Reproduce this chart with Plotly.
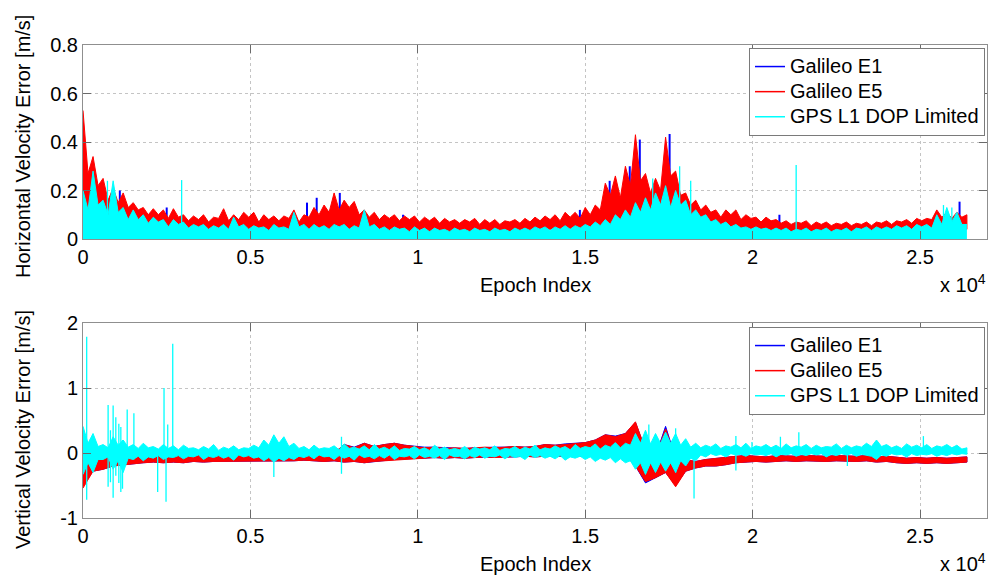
import plotly.graph_objects as go

# ---------------- data ----------------
# bins of 300 epochs; *_HI/_LO = per-bin extremes, *_V = local valleys of the
# jagged edge read half-way between two bins
EPOCHS = list(range(0, 26401, 300))          # 89 bin starts
MID_EPOCHS = list(range(150, 26401, 300))    # 88 half-way positions

# ---- Horizontal velocity error [m/s]
H_E5_HI = [0.53, 0.34, 0.25, 0.21, 0.19, 0.15, 0.13, 0.125, 0.12, 0.125,
           0.10, 0.095, 0.10, 0.09, 0.125, 0.10, 0.11, 0.11, 0.10, 0.095,
           0.095, 0.12, 0.10, 0.13, 0.14, 0.19, 0.16, 0.155, 0.12, 0.11,
           0.10, 0.10, 0.095, 0.095, 0.09, 0.09, 0.085, 0.08, 0.08, 0.085,
           0.08, 0.08, 0.075, 0.08, 0.085, 0.09, 0.095, 0.10, 0.11, 0.11,
           0.13, 0.14, 0.23, 0.26, 0.30, 0.43, 0.27, 0.25, 0.42, 0.28,
           0.19, 0.16, 0.14, 0.12, 0.12, 0.12, 0.10, 0.09, 0.09, 0.08,
           0.075, 0.07, 0.075, 0.07, 0.07, 0.065, 0.07, 0.065, 0.07, 0.07,
           0.075, 0.075, 0.08, 0.085, 0.085, 0.12, 0.11, 0.11, 0.10]
H_E5_HI_V = [0.27, 0.22, 0.16, 0.15, 0.13, 0.12, 0.10, 0.10, 0.085, 0.09,
             0.075, 0.08, 0.07, 0.085, 0.075, 0.08, 0.09, 0.07, 0.08, 0.075,
             0.085, 0.07, 0.09, 0.10, 0.11, 0.12, 0.13, 0.10, 0.09, 0.08,
             0.085, 0.075, 0.08, 0.07, 0.075, 0.065, 0.07, 0.065, 0.07, 0.06,
             0.065, 0.06, 0.07, 0.065, 0.07, 0.075, 0.08, 0.075, 0.09, 0.085,
             0.10, 0.12, 0.18, 0.17, 0.22, 0.24, 0.19, 0.20, 0.26, 0.18,
             0.14, 0.12, 0.11, 0.09, 0.10, 0.08, 0.085, 0.07, 0.075, 0.065,
             0.06, 0.065, 0.055, 0.06, 0.055, 0.06, 0.055, 0.06, 0.055, 0.065,
             0.06, 0.07, 0.065, 0.075, 0.08, 0.09, 0.085, 0.09]
H_E5_LO = [0.10, 0.06, 0.04, 0.05, 0.06, 0.05, 0.05, 0.05, 0.045, 0.045,
           0.04, 0.03, 0.025, 0.03, 0.03, 0.025, 0.02, 0.025, 0.03, 0.03,
           0.025, 0.03, 0.025, 0.04, 0.04, 0.035, 0.03, 0.035, 0.04, 0.035,
           0.03, 0.035, 0.03, 0.03, 0.035, 0.03, 0.03, 0.025, 0.03, 0.03,
           0.025, 0.03, 0.03, 0.03, 0.035, 0.035, 0.04, 0.04, 0.04, 0.045,
           0.045, 0.05, 0.06, 0.06, 0.07, 0.08, 0.07, 0.06, 0.07, 0.08,
           0.06, 0.05, 0.05, 0.05, 0.04, 0.04, 0.04, 0.035, 0.035, 0.035,
           0.03, 0.03, 0.035, 0.03, 0.03, 0.03, 0.035, 0.03, 0.03, 0.035,
           0.035, 0.035, 0.04, 0.04, 0.04, 0.045, 0.045, 0.045, 0.04]
# Galileo E1 is hidden under E5 except where it pokes out above it
H_E1_PEAK_X = [360, 1100, 1300, 2500, 6690, 6980, 7670, 9560, 14840, 15730,
               16330, 16630, 17520, 20800, 26180]
H_E1_PEAK_Y = [0.25, 0.20, 0.14, 0.13, 0.15, 0.17, 0.19, 0.10, 0.12, 0.24,
               0.30, 0.41, 0.433, 0.10, 0.154]
H_GPS_HI = [0.20, 0.28, 0.16, 0.24, 0.13, 0.12, 0.10, 0.09, 0.08, 0.08,
            0.07, 0.06, 0.06, 0.055, 0.06, 0.09, 0.06, 0.055, 0.05, 0.06,
            0.05, 0.11, 0.06, 0.06, 0.055, 0.06, 0.06, 0.055, 0.12, 0.06,
            0.05, 0.05, 0.045, 0.05, 0.045, 0.045, 0.04, 0.045, 0.04, 0.045,
            0.04, 0.045, 0.04, 0.045, 0.045, 0.05, 0.05, 0.05, 0.055, 0.055,
            0.06, 0.07, 0.08, 0.10, 0.12, 0.15, 0.17, 0.19, 0.22, 0.20,
            0.16, 0.12, 0.10, 0.08, 0.07, 0.06, 0.05, 0.05, 0.045, 0.045,
            0.045, 0.04, 0.045, 0.04, 0.045, 0.04, 0.045, 0.045, 0.05, 0.05,
            0.05, 0.055, 0.055, 0.06, 0.06, 0.10, 0.13, 0.11, 0.06]
H_GPS_HI_V = [0.12, 0.14, 0.10, 0.11, 0.08, 0.08, 0.065, 0.07, 0.05, 0.06,
              0.045, 0.05, 0.04, 0.045, 0.04, 0.05, 0.04, 0.045, 0.035, 0.045,
              0.04, 0.05, 0.04, 0.045, 0.04, 0.05, 0.04, 0.045, 0.05, 0.04,
              0.035, 0.04, 0.03, 0.035, 0.03, 0.035, 0.03, 0.035, 0.03, 0.035,
              0.03, 0.035, 0.03, 0.035, 0.035, 0.04, 0.035, 0.04, 0.04, 0.045,
              0.05, 0.055, 0.06, 0.08, 0.09, 0.11, 0.12, 0.14, 0.13, 0.14,
              0.10, 0.09, 0.07, 0.06, 0.05, 0.045, 0.04, 0.04, 0.035, 0.035,
              0.03, 0.035, 0.03, 0.035, 0.03, 0.035, 0.03, 0.04, 0.035, 0.04,
              0.04, 0.045, 0.04, 0.05, 0.045, 0.06, 0.07, 0.06]
H_GPS_SPIKE_X = [730, 2946, 17015, 17820, 18150, 21300, 25700, 25950]
H_GPS_SPIKE_Y = [0.24, 0.243, 0.25, 0.30, 0.24, 0.305, 0.14, 0.13]

# ---- Vertical velocity error [m/s]
V_E1_HI = [0.0, -0.05, -0.08, -0.05, -0.05, -0.04, -0.03, -0.03, -0.03, -0.03,
           -0.03, 0.0, -0.02, 0.0, -0.03, -0.01, 0.0, -0.02, -0.01, 0.0,
           -0.02, 0.0, -0.01, 0.0, -0.02, 0.0, 0.13, 0.09, 0.15, 0.10,
           0.13, 0.15, 0.12, 0.10, 0.09, 0.09, 0.08, 0.08, 0.07, 0.08,
           0.09, 0.09, 0.09, 0.10, 0.09, 0.10, 0.13, 0.12, 0.14, 0.15,
           0.16, 0.20, 0.28, 0.26, 0.30, 0.47, 0.05, -0.05, 0.41, -0.08,
           -0.10, -0.13, -0.10, -0.08, -0.07, -0.05, -0.04, -0.05, -0.06, -0.04,
           -0.05, -0.05, -0.04, -0.05, -0.05, -0.04, -0.05, -0.05, -0.04, -0.06,
           -0.05, -0.07, -0.08, -0.07, -0.08, -0.07, -0.08, -0.07, -0.06]
V_E1_LO = [-0.50, -0.28, -0.25, -0.20, -0.18, -0.17, -0.15, -0.14, -0.15, -0.14,
           -0.15, -0.13, -0.14, -0.13, -0.13, -0.12, -0.13, -0.12, -0.12, -0.13,
           -0.12, -0.12, -0.11, -0.12, -0.13, -0.12, -0.14, -0.13, -0.15, -0.13,
           -0.12, -0.10, -0.09, -0.08, -0.08, -0.07, -0.08, -0.07, -0.08, -0.07,
           -0.06, -0.07, -0.06, -0.06, -0.05, -0.06, -0.05, -0.05, -0.05, -0.04,
           -0.05, -0.05, -0.04, -0.05, -0.03, -0.20, -0.46, -0.38, -0.30, -0.50,
           -0.28, -0.23, -0.20, -0.20, -0.18, -0.15, -0.14, -0.13, -0.14, -0.13,
           -0.12, -0.13, -0.12, -0.12, -0.13, -0.12, -0.12, -0.13, -0.12, -0.14,
           -0.13, -0.15, -0.16, -0.15, -0.16, -0.15, -0.16, -0.15, -0.14]
V_E5_HI = [0.0, -0.05, -0.08, -0.05, -0.05, -0.04, -0.03, -0.03, -0.03, -0.03,
           -0.03, 0.0, -0.02, 0.0, -0.03, -0.01, 0.0, -0.02, -0.01, 0.0,
           -0.02, 0.0, -0.01, 0.0, -0.02, 0.0, 0.13, 0.08, 0.15, 0.10,
           0.13, 0.15, 0.12, 0.10, 0.08, 0.09, 0.07, 0.08, 0.07, 0.08,
           0.09, 0.08, 0.09, 0.10, 0.09, 0.10, 0.13, 0.12, 0.13, 0.15,
           0.16, 0.20, 0.28, 0.25, 0.30, 0.48, 0.05, -0.05, 0.37, -0.08,
           -0.10, -0.13, -0.10, -0.08, -0.07, -0.05, -0.04, -0.05, -0.06, -0.04,
           -0.05, -0.05, -0.04, -0.05, -0.05, -0.04, -0.05, -0.05, -0.04, -0.06,
           -0.05, -0.07, -0.08, -0.07, -0.08, -0.07, -0.08, -0.07, -0.06]
V_E5_LO = [-0.54, -0.28, -0.25, -0.20, -0.18, -0.17, -0.15, -0.14, -0.15, -0.14,
           -0.15, -0.13, -0.14, -0.13, -0.13, -0.12, -0.13, -0.12, -0.12, -0.13,
           -0.12, -0.12, -0.11, -0.12, -0.13, -0.12, -0.14, -0.13, -0.15, -0.13,
           -0.12, -0.10, -0.09, -0.08, -0.08, -0.07, -0.08, -0.07, -0.08, -0.07,
           -0.06, -0.07, -0.06, -0.06, -0.05, -0.06, -0.05, -0.05, -0.05, -0.04,
           -0.05, -0.05, -0.04, -0.05, -0.03, -0.20, -0.44, -0.38, -0.30, -0.52,
           -0.28, -0.23, -0.20, -0.20, -0.18, -0.15, -0.14, -0.13, -0.14, -0.13,
           -0.12, -0.13, -0.12, -0.12, -0.13, -0.12, -0.12, -0.13, -0.12, -0.14,
           -0.13, -0.15, -0.16, -0.15, -0.16, -0.15, -0.16, -0.15, -0.14]
V_GPS_HI = [0.41, 0.30, 0.13, 0.25, 0.20, 0.13, 0.15, 0.10, 0.13, 0.11,
            0.12, 0.08, 0.10, 0.13, 0.09, 0.11, 0.08, 0.12, 0.20, 0.28,
            0.25, 0.15, 0.10, 0.12, 0.08, 0.11, 0.14, 0.09, 0.11, 0.13,
            0.09, 0.11, 0.07, 0.10, 0.08, 0.12, 0.09, 0.07, 0.10, 0.09,
            0.08, 0.11, 0.07, 0.10, 0.09, 0.12, 0.08, 0.11, 0.10, 0.13,
            0.10, 0.14, 0.12, 0.16, 0.15, 0.30, 0.35, 0.30, 0.32, 0.30,
            0.22, 0.15, 0.12, 0.14, 0.11, 0.13, 0.15, 0.11, 0.13, 0.12,
            0.14, 0.11, 0.13, 0.12, 0.10, 0.14, 0.12, 0.11, 0.15, 0.20,
            0.13, 0.11, 0.14, 0.12, 0.13, 0.11, 0.13, 0.12, 0.08]
V_GPS_HI_V = [0.15, 0.10, 0.08, 0.12, 0.09, 0.07, 0.08, 0.06, 0.07, 0.05,
              0.07, 0.05, 0.06, 0.04, 0.06, 0.05, 0.07, 0.08, 0.12, 0.15,
              0.10, 0.07, 0.05, 0.06, 0.07, 0.05, 0.07, 0.06, 0.05, 0.06,
              0.05, 0.04, 0.06, 0.05, 0.04, 0.06, 0.05, 0.05, 0.04, 0.06,
              0.05, 0.04, 0.06, 0.05, 0.06, 0.05, 0.06, 0.07, 0.05, 0.07,
              0.08, 0.06, 0.09, 0.08, 0.12, 0.15, 0.14, 0.15, 0.15, 0.12,
              0.09, 0.08, 0.09, 0.07, 0.09, 0.08, 0.07, 0.09, 0.08, 0.07,
              0.08, 0.09, 0.07, 0.08, 0.09, 0.07, 0.08, 0.09, 0.10, 0.10,
              0.08, 0.07, 0.09, 0.08, 0.07, 0.09, 0.08, 0.06]
V_GPS_LO = [-0.33, -0.30, -0.10, -0.25, -0.30, -0.10, -0.12, -0.08, -0.10, -0.07,
            -0.09, -0.06, -0.10, -0.07, -0.08, -0.11, -0.06, -0.08, -0.12, -0.14,
            -0.12, -0.10, -0.07, -0.09, -0.06, -0.10, -0.08, -0.11, -0.07, -0.09,
            -0.08, -0.10, -0.06, -0.09, -0.07, -0.08, -0.10, -0.06, -0.09, -0.07,
            -0.08, -0.06, -0.09, -0.07, -0.10, -0.07, -0.08, -0.09, -0.11, -0.08,
            -0.10, -0.13, -0.11, -0.15, -0.15, -0.25, -0.33, -0.30, -0.28, -0.30,
            -0.20, -0.12, -0.06, -0.04, -0.06, -0.03, -0.05, -0.03, -0.04, -0.06,
            -0.03, -0.05, -0.04, -0.03, -0.06, -0.04, -0.03, -0.05, -0.04, -0.10,
            -0.05, -0.03, -0.06, -0.04, -0.03, -0.05, -0.04, -0.03, -0.02]
V_GPS_LO_V = [-0.15, -0.10, -0.06, -0.12, -0.08, -0.05, -0.06, -0.04, -0.06, -0.04,
              -0.05, -0.03, -0.05, -0.04, -0.05, -0.03, -0.04, -0.06, -0.07, -0.08,
              -0.07, -0.05, -0.04, -0.03, -0.05, -0.04, -0.05, -0.03, -0.05, -0.04,
              -0.03, -0.05, -0.04, -0.03, -0.05, -0.04, -0.03, -0.05, -0.04, -0.03,
              -0.05, -0.03, -0.04, -0.05, -0.03, -0.04, -0.05, -0.04, -0.06, -0.05,
              -0.06, -0.08, -0.07, -0.09, -0.12, -0.15, -0.15, -0.14, -0.15, -0.12,
              -0.08, -0.03, -0.01, -0.02, -0.01, -0.02, -0.01, -0.02, -0.01, -0.02,
              -0.01, -0.02, -0.01, -0.01, -0.02, -0.01, -0.01, -0.02, -0.05, -0.03,
              -0.01, -0.02, -0.01, -0.02, -0.01, -0.02, -0.01, -0.01]
V_GPS_SPIKE_X = [110, 750, 820, 900, 980, 1070, 1130, 1180, 1320, 1520, 2230, 2420,
                 2480, 2530, 2680, 5700, 7720, 16900, 17700, 18250, 19500, 19980,
                 20830, 21380, 22830, 25100]
V_GPS_SPIKE_HI = [1.79, 0.74, 0.35, 0.73, 0.55, 0.45, 0.40, 0.20, 0.67, 0.61, 0.05, 1.0,
                  0.05, 0.44, 1.68, 0.10, 0.25, 0.44, 0.38, 0.10, 0.26, 0.17,
                  0.25, 0.32, 0.05, 0.26]
V_GPS_SPIKE_LO = [-0.72, -0.52, -0.45, -0.69, -0.35, -0.46, -0.60, -0.55, -0.10, -0.10,
                  -0.60, -0.05, -0.75, -0.05, -0.05, -0.37, -0.32, -0.20, -0.30, -0.70,
                  -0.27, -0.02, -0.02, -0.02, -0.20, -0.02]

SERIES = ["Galileo E1", "Galileo E5", "GPS L1 DOP Limited"]
COLORS = ["#0000FF", "#FF0000", "#00FFFF"]
X_TICKS = [0, 5000, 10000, 15000, 20000, 25000]
X_TICKTEXT = ["0", "0.5", "1", "1.5", "2", "2.5"]
H_TICKS = [0, 0.2, 0.4, 0.6, 0.8]
H_TICKTEXT = ["0", "0.2", "0.4", "0.6", "0.8"]
V_TICKS = [-1, 0, 1, 2]
V_TICKTEXT = ["-1", "0", "1", "2"]

for arr in [H_E5_HI, H_E5_LO, H_GPS_HI, V_E1_HI, V_E1_LO, V_E5_HI, V_E5_LO,
            V_GPS_HI, V_GPS_LO]:
    assert len(arr) == len(EPOCHS), len(arr)
for arr in [H_E5_HI_V, H_GPS_HI_V, V_GPS_HI_V, V_GPS_LO_V]:
    assert len(arr) == len(MID_EPOCHS), len(arr)


def merge(peaks, valleys):
    """interleave bin extremes with the valleys read between them"""
    xs, ys = [], []
    for i, (x, y) in enumerate(zip(EPOCHS, peaks)):
        xs.append(x)
        ys.append(y)
        if i < len(valleys):
            xs.append(MID_EPOCHS[i])
            ys.append(valleys[i])
    return xs, ys


# ---------------- figure ----------------
W, H = 989, 576
ML, MR, MT, MB = 83, 2, 45, 58
PW, PH = W - ML - MR, H - MT - MB


def px(X):
    return (X - ML) / PW


def py(Y):
    return (H - MB - Y) / PH


FONT = "Liberation Sans, Arial, Helvetica, sans-serif"
fig = go.Figure()


def band(x_hi, hi, x_lo, lo, color, xa, ya):
    xs = list(x_hi) + list(x_lo)[::-1]
    ys = list(hi) + list(lo)[::-1]
    fig.add_trace(go.Scatter(x=xs, y=ys, mode="lines", fill="toself",
                             fillcolor=color, line=dict(color=color, width=1),
                             showlegend=False, hoverinfo="skip",
                             xaxis=xa, yaxis=ya))


def spikes(sx, lo, hi, color, xa, ya, width=1.3):
    xs, ys = [], []
    for x, a, b in zip(sx, lo, hi):
        xs += [x, x, None]
        ys += [a, b, None]
    fig.add_trace(go.Scatter(x=xs, y=ys, mode="lines",
                             line=dict(color=color, width=width),
                             showlegend=False, hoverinfo="skip",
                             xaxis=xa, yaxis=ya))


# top subplot (E1 below E5 below GPS, as plotted)
spikes(H_E1_PEAK_X, [0] * len(H_E1_PEAK_X), H_E1_PEAK_Y, COLORS[0], "x", "y", 2)
hx, hy = merge(H_E5_HI, H_E5_HI_V)
band(hx, hy, EPOCHS, H_E5_LO, COLORS[1], "x", "y")
gx, gy = merge(H_GPS_HI, H_GPS_HI_V)
fig.add_trace(go.Scatter(x=gx, y=gy, mode="lines", fill="tozeroy",
                         fillcolor=COLORS[2], line=dict(color=COLORS[2], width=1),
                         showlegend=False, hoverinfo="skip", xaxis="x", yaxis="y"))
spikes(H_GPS_SPIKE_X, [0] * len(H_GPS_SPIKE_X), H_GPS_SPIKE_Y, COLORS[2], "x", "y")

# bottom subplot
band(EPOCHS, V_E1_HI, EPOCHS, V_E1_LO, COLORS[0], "x2", "y2")
band(EPOCHS, V_E5_HI, EPOCHS, V_E5_LO, COLORS[1], "x2", "y2")
ux, uy = merge(V_GPS_HI, V_GPS_HI_V)
lx, ly = merge(V_GPS_LO, V_GPS_LO_V)
band(ux, uy, lx, ly, COLORS[2], "x2", "y2")
spikes(V_GPS_SPIKE_X, V_GPS_SPIKE_LO, V_GPS_SPIKE_HI, COLORS[2], "x2", "y2")

# legend keys
for lg, xa, ya in (("legend", "x", "y"), ("legend2", "x2", "y2")):
    for name, c in zip(SERIES, COLORS):
        fig.add_trace(go.Scatter(
            x=[None], y=[None], mode="lines",
            name='<span style="font-size:20px">%s</span>' % name,
            line=dict(color=c, width=1.5), xaxis=xa, yaxis=ya, legend=lg))

AX = dict(showline=True, linecolor="#8f8f8f", linewidth=1, mirror="ticks",
          ticks="inside", ticklen=8, tickcolor="#6a6a6a", tickwidth=1,
          showgrid=True, gridcolor="#c4c4c4", griddash="dot", gridwidth=1,
          zeroline=False, tickfont=dict(family=FONT, size=20, color="black"))

LEG = dict(xanchor="right", yanchor="top", bgcolor="white",
           bordercolor="#7a7a7a", borderwidth=1, tracegroupgap=0,
           font=dict(family=FONT, size=17, color="black"))

fig.update_layout(
    width=W, height=H,
    margin=dict(l=ML, r=MR, t=MT, b=MB),
    paper_bgcolor="white", plot_bgcolor="white",
    font=dict(family=FONT, size=20, color="black"),
    xaxis=dict(AX, domain=[0, 1], anchor="y", range=[0, 27000],
               tickvals=X_TICKS, ticktext=X_TICKTEXT),
    yaxis=dict(AX, domain=[py(239), 1.0], anchor="x", range=[0, 0.8],
               tickvals=H_TICKS, ticktext=H_TICKTEXT),
    xaxis2=dict(AX, domain=[0, 1], anchor="y2", range=[0, 27000],
                tickvals=X_TICKS, ticktext=X_TICKTEXT),
    yaxis2=dict(AX, domain=[0.0, py(323)], anchor="x2", range=[-1, 2],
                tickvals=V_TICKS, ticktext=V_TICKTEXT),
    legend=dict(LEG, x=px(985), y=py(48)),
    legend2=dict(LEG, x=px(985), y=py(327)),
    showlegend=True,
)

ann = []
for yc in (285, 564):
    ann.append(dict(text="Epoch Index", x=0.5, y=py(yc), xref="paper", yref="paper",
                    showarrow=False, xanchor="center", yanchor="middle",
                    font=dict(family=FONT, size=20, color="black")))
    ann.append(dict(text="x 10<sup>4</sup>", x=px(988), y=py(yc - 2), xref="paper",
                    yref="paper", showarrow=False, xanchor="right", yanchor="middle",
                    font=dict(family=FONT, size=20, color="black")))
ann.append(dict(text="Horizontal Velocity Error [m/s]", x=px(23), y=py(147),
                xref="paper", yref="paper", showarrow=False, textangle=-90,
                xanchor="center", yanchor="middle",
                font=dict(family=FONT, size=20, color="black")))
ann.append(dict(text="Vertical Velocity Error [m/s]", x=px(23), y=py(430),
                xref="paper", yref="paper", showarrow=False, textangle=-90,
                xanchor="center", yanchor="middle",
                font=dict(family=FONT, size=20, color="black")))
fig.update_layout(annotations=ann)

fig.write_html("out.html",
               config={"displayModeBar": False},
               post_script="document.body.style.margin='0px';"
                           "document.body.style.overflow='hidden';")
